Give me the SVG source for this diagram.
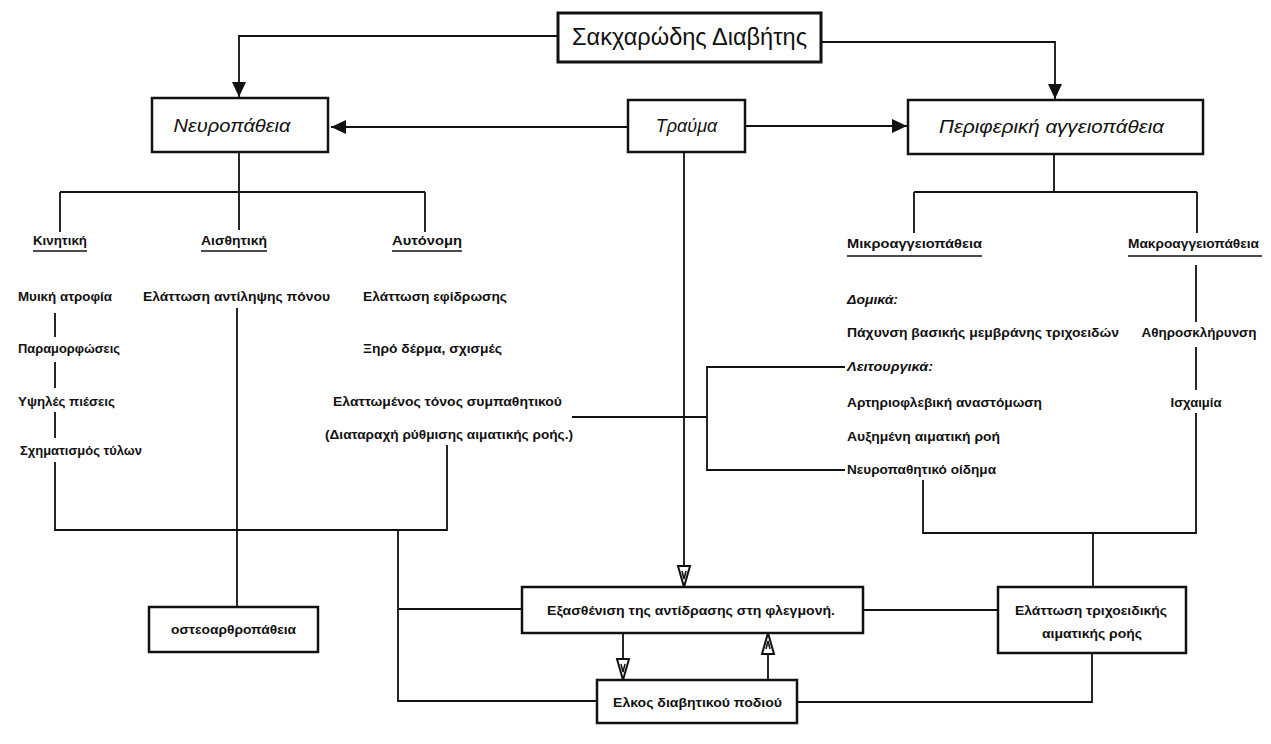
<svg xmlns="http://www.w3.org/2000/svg" width="1271" height="744" viewBox="0 0 1271 744">
<style>
.box{fill:#fff;stroke:#111;stroke-width:2.5}
.ln{fill:none;stroke:#111;stroke-width:1.8}
.t{font-family:"Liberation Sans",Arial,sans-serif;font-size:12.5px;font-weight:bold;fill:#111}
.it{font-style:italic}
.bt{font-family:"Liberation Sans",Arial,sans-serif;font-size:18px;font-style:italic;fill:#111}
.ttl{font-family:"Liberation Sans",Arial,sans-serif;font-size:24px;fill:#111}
.ul{stroke:#111;stroke-width:1.5}
</style>
<defs>
<marker id="af" markerUnits="userSpaceOnUse" markerWidth="16" markerHeight="14" refX="15" refY="7" orient="auto">
<path d="M0,0 L15,7 L0,14 z" fill="#111"/>
</marker>
<marker id="ah" markerUnits="userSpaceOnUse" markerWidth="24" markerHeight="16" refX="22" refY="8" orient="auto">
<path d="M1,2 L22,8 L1,14 z" fill="#fff" stroke="#111" stroke-width="2"/>
<path d="M6,6 L14,8 L6,10" fill="none" stroke="#111" stroke-width="1.5"/>
</marker>
</defs>
<rect width="1271" height="744" fill="#fff"/>

<g id="connectors">
<path class="ln" d="M558,36 H239 V97" marker-end="url(#af)"/>
<path class="ln" d="M821,42 H1055 V99" marker-end="url(#af)"/>
<path class="ln" d="M628,127 H331" marker-end="url(#af)"/>
<path class="ln" d="M745,126 H907" marker-end="url(#af)"/>
<path class="ln" d="M239,152 V192 M60,192 H425 M60,192 V232 M239,192 V230 M425,192 V232"/>
<path class="ln" d="M1054,154 V192 M914,192 H1197 M914,192 V233 M1197,192 V233"/>
<path class="ln" d="M55,313 V337 M55,362 V388 M55,412 V438 M55,462 V530 H447 V445"/>
<path class="ln" d="M237,308 V607"/>
<path class="ln" d="M398,530 V701 H597 M398,609 H522"/>
<path class="ln" d="M684,152 V587" marker-end="url(#ah)"/>
<path class="ln" d="M623,633 V680" marker-end="url(#ah)"/>
<path class="ln" d="M768,680 V633" marker-end="url(#ah)"/>
<path class="ln" d="M572,417 H707 M845,367 H707 V470 H845"/>
<path class="ln" d="M863,610 H998"/>
<path class="ln" d="M797,702 H1092 V653"/>
<path class="ln" d="M1093,533 V587 M923,480 V533 H1196 V413"/>
<path class="ln" d="M1196,265 V322 M1196,347 V390"/>
</g>

<g id="n-title"><rect class="box" x="558" y="13" width="263" height="49" style="stroke-width:3"/><text class="ttl" x="689.5" y="45" text-anchor="middle" textLength="235" lengthAdjust="spacingAndGlyphs">Σακχαρώδης Διαβήτης</text></g>
<g id="n-neuro"><rect class="box" x="152" y="98" width="176" height="54"/><text class="bt" x="232" y="132" text-anchor="middle" textLength="117" lengthAdjust="spacingAndGlyphs">Νευροπάθεια</text></g>
<g id="n-trauma"><rect class="box" x="628" y="100" width="117" height="52"/><text class="bt" x="686.5" y="132" text-anchor="middle">Τραύμα</text></g>
<g id="n-periph"><rect class="box" x="908" y="100" width="295" height="54"/><text class="bt" x="1051.5" y="133" text-anchor="middle" textLength="225" lengthAdjust="spacingAndGlyphs">Περιφερική αγγειοπάθεια</text></g>

<g id="n-kinitiki"><text class="t" x="33" y="245" textLength="54" lengthAdjust="spacingAndGlyphs">Κινητική</text><line class="ul" x1="33" y1="251" x2="87" y2="251"/></g>
<g id="n-aisthitiki"><text class="t" x="201" y="245" textLength="66" lengthAdjust="spacingAndGlyphs">Αισθητική</text><line class="ul" x1="201" y1="251" x2="267" y2="251"/></g>
<g id="n-autonomi"><text class="t" x="392" y="245" textLength="70" lengthAdjust="spacingAndGlyphs">Αυτόνομη</text><line class="ul" x1="392" y1="251" x2="462" y2="251"/></g>

<g id="n-kin-items">
<text class="t" x="18" y="301" textLength="94" lengthAdjust="spacingAndGlyphs">Μυική ατροφία</text>
<text class="t" x="18" y="353" textLength="102" lengthAdjust="spacingAndGlyphs">Παραμορφώσεις</text>
<text class="t" x="18" y="406" textLength="97" lengthAdjust="spacingAndGlyphs">Υψηλές πιέσεις</text>
<text class="t" x="20" y="455" textLength="122" lengthAdjust="spacingAndGlyphs">Σχηματισμός τύλων</text>
</g>
<g id="n-aisth-items"><text class="t" x="143" y="301" textLength="187" lengthAdjust="spacingAndGlyphs">Ελάττωση αντίληψης πόνου</text></g>
<g id="n-auto-items">
<text class="t" x="363" y="301" textLength="144" lengthAdjust="spacingAndGlyphs">Ελάττωση εφίδρωσης</text>
<text class="t" x="363" y="353" textLength="139" lengthAdjust="spacingAndGlyphs">Ξηρό δέρμα, σχισμές</text>
<text class="t" x="333" y="406" textLength="229" lengthAdjust="spacingAndGlyphs">Ελαττωμένος τόνος συμπαθητικού</text>
<text class="t" x="325" y="439" textLength="248" lengthAdjust="spacingAndGlyphs">(Διαταραχή ρύθμισης αιματικής ροής.)</text>
</g>

<g id="n-mikro"><text class="t" x="847" y="248" textLength="135" lengthAdjust="spacingAndGlyphs">Μικροαγγειοπάθεια</text><line class="ul" x1="847" y1="256" x2="982" y2="256"/></g>
<g id="n-makro"><text class="t" x="1128" y="248" textLength="131" lengthAdjust="spacingAndGlyphs">Μακροαγγειοπάθεια</text><line class="ul" x1="1128" y1="256" x2="1262" y2="256"/></g>
<g id="n-mikro-items">
<text class="t it" x="847" y="304" textLength="51" lengthAdjust="spacingAndGlyphs">Δομικά:</text>
<text class="t" x="847" y="337" textLength="272" lengthAdjust="spacingAndGlyphs">Πάχυνση βασικής μεμβράνης τριχοειδών</text>
<text class="t it" x="847" y="371" textLength="86" lengthAdjust="spacingAndGlyphs">Λειτουργικά:</text>
<text class="t" x="847" y="407" textLength="195" lengthAdjust="spacingAndGlyphs">Αρτηριοφλεβική αναστόμωση</text>
<text class="t" x="847" y="441" textLength="153" lengthAdjust="spacingAndGlyphs">Αυξημένη αιματική ροή</text>
<text class="t" x="847" y="474" textLength="149" lengthAdjust="spacingAndGlyphs">Νευροπαθητικό οίδημα</text>
</g>
<g id="n-makro-items">
<text class="t" x="1199" y="337" text-anchor="middle" textLength="115" lengthAdjust="spacingAndGlyphs">Αθηροσκλήρυνση</text>
<text class="t" x="1196" y="407" text-anchor="middle" textLength="51" lengthAdjust="spacingAndGlyphs">Ισχαιμία</text>
</g>

<g id="n-osteo"><rect class="box" x="149" y="607" width="169" height="45"/><text class="t" x="233.5" y="634" text-anchor="middle" textLength="125" lengthAdjust="spacingAndGlyphs">οστεοαρθροπάθεια</text></g>
<g id="n-exasth"><rect class="box" x="522" y="587" width="341" height="46"/><text class="t" x="691" y="615" text-anchor="middle" textLength="288" lengthAdjust="spacingAndGlyphs">Εξασθένιση της αντίδρασης στη φλεγμονή.</text></g>
<g id="n-elkos"><rect class="box" x="597" y="680" width="200" height="43"/><text class="t" x="697.5" y="707" text-anchor="middle" textLength="169" lengthAdjust="spacingAndGlyphs">Ελκος διαβητικού ποδιού</text></g>
<g id="n-elattosi"><rect class="box" x="998" y="587" width="188" height="66"/><text class="t" x="1091" y="615" text-anchor="middle" textLength="152" lengthAdjust="spacingAndGlyphs">Ελάττωση τριχοειδικής</text><text class="t" x="1092" y="638" text-anchor="middle" textLength="100" lengthAdjust="spacingAndGlyphs">αιματικής ροής</text></g>
</svg>
